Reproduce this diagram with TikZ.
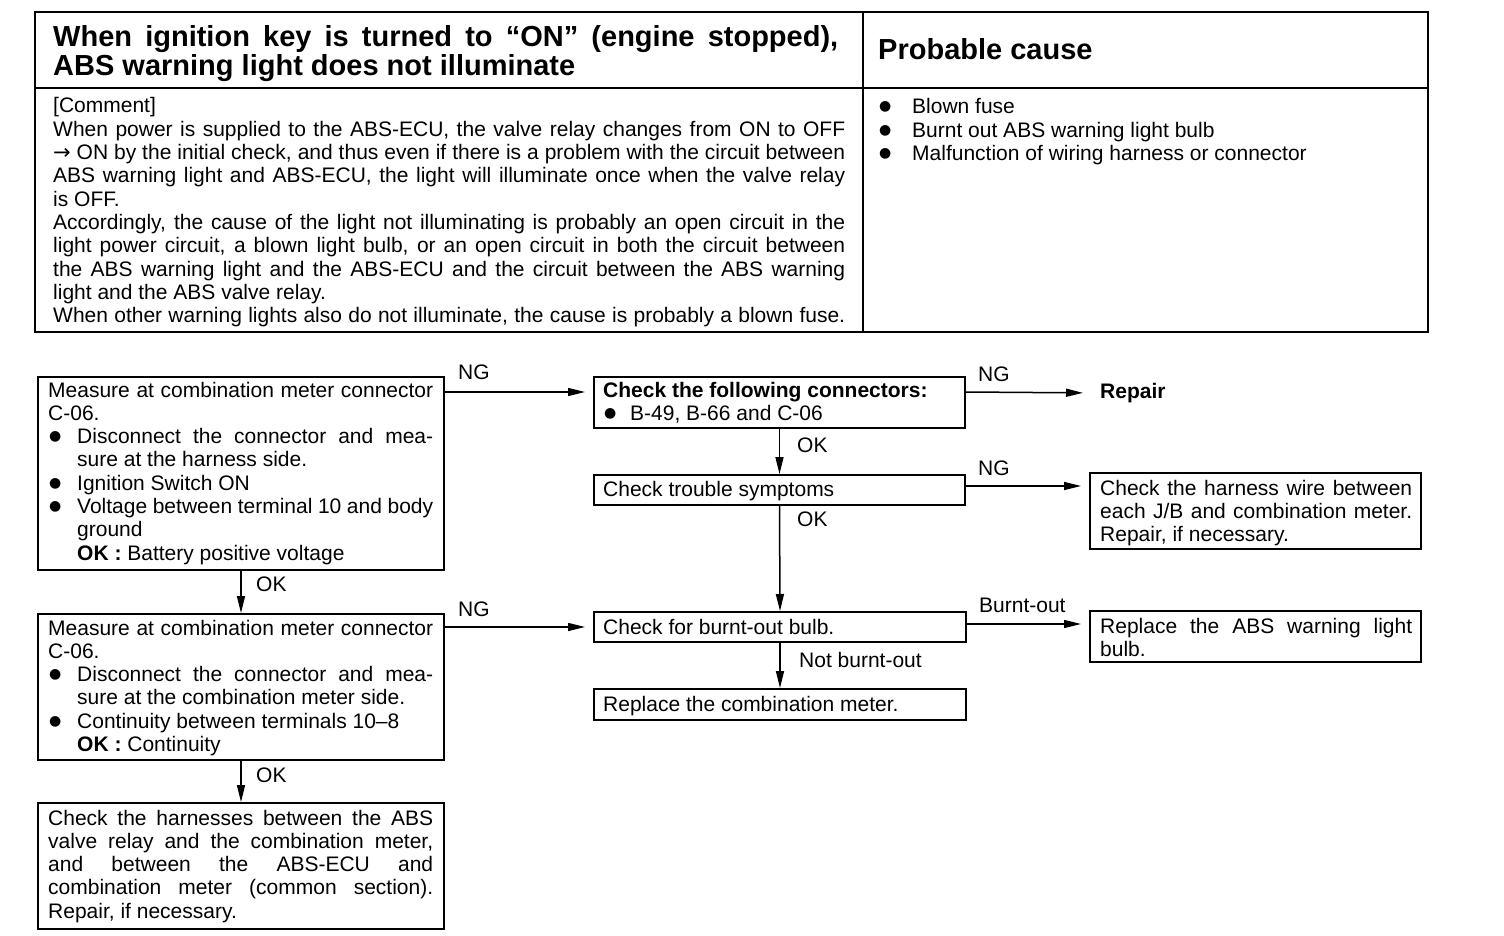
\documentclass[tikz,border=0pt]{standalone}
\usepackage{fontspec}
\setmainfont{Liberation Sans}
\newfontfamily\dv{DejaVu Sans}
\usetikzlibrary{arrows.meta}
\newcommand\jl[1]{\hbox to \hsize{\spaceskip=0.278em plus 1fil minus 0.12em\relax #1}}
\newcommand\rl[1]{\hbox{#1}}
\newcommand\blk[2]{\vtop{\hsize=#1\lineskiplimit=-100pt\relax #2}}
\newcommand\bulw[1]{\makebox[#1][l]{\hspace*{1pt}\raisebox{3pt}{\dv\fontsize{14}{14}\selectfont ●}}}
\newcommand\bul{\bulw{29pt}}
\tikzset{
  boxn/.style={draw, line width=2pt, inner sep=0pt, anchor=north west},
  txt/.style={inner sep=0pt, anchor=base west, font=\fontsize{21}{23.3}\selectfont},
  hdr/.style={inner sep=0pt, anchor=base west, font=\fontsize{29}{29}\bfseries\selectfont},
  lbl/.style={inner sep=0pt, anchor=west, font=\fontsize{21}{23.3}\selectfont},
  arr/.style={line width=1.5pt, -{Triangle[length=17pt,width=8pt]}},
  harr/.style={arr, shorten >=8pt},
}
\begin{document}
\begin{tikzpicture}[x=1pt,y=-1pt]
\useasboundingbox[fill=white] (0,0) rectangle (1504,936);
% ---------- top table ----------
\draw[line width=2pt] (35,12) rectangle (1428,332);
\draw[line width=2pt] (35,88) -- (1428,88);
\draw[line width=2pt] (863,12) -- (863,332);
\node[hdr] (title) at (53,47) {\blk{785pt}{\jl{When ignition key is turned to “ON” (engine stopped),}\rl{ABS warning light does not illuminate}}};
\node[hdr] (pctitle) at (878,60) {Probable cause};
\node[txt] (comment) at (53,113) {\blk{792pt}{%
\rl{[Comment]}%
\jl{When power is supplied to the ABS-ECU, the valve relay changes from ON to OFF}%
\jl{{\dv →} ON by the initial check, and thus even if there is a problem with the circuit between}%
\jl{ABS warning light and ABS-ECU, the light will illuminate once when the valve relay}%
\rl{is OFF.}%
\jl{Accordingly, the cause of the light not illuminating is probably an open circuit in the}%
\jl{light power circuit, a blown light bulb, or an open circuit in both the circuit between}%
\jl{the ABS warning light and the ABS-ECU and the circuit between the ABS warning}%
\rl{light and the ABS valve relay.}%
\jl{When other warning lights also do not illuminate, the cause is probably a blown fuse.}}};
\node[txt] (causes) at (878,114) {\blk{540pt}{%
\rl{\bulw{34pt}Blown fuse}%
\rl{\bulw{34pt}Burnt out ABS warning light bulb}%
\rl{\bulw{34pt}Malfunction of wiring harness or connector}}};
% ---------- flowchart boxes ----------
\node[boxn, minimum width=406pt, minimum height=193pt] (A) at (37,376) {};
\node[boxn, minimum width=371pt, minimum height=51pt] (B) at (593,376) {};
\node[boxn, minimum width=371pt, minimum height=30pt] (C) at (593,474) {};
\node[boxn, minimum width=331pt, minimum height=76pt] (D) at (1089,472) {};
\node[boxn, minimum width=372pt, minimum height=30pt] (E) at (593,611) {};
\node[boxn, minimum width=331pt, minimum height=51pt] (F) at (1089,610) {};
\node[boxn, minimum width=372pt, minimum height=31pt] (G) at (593,688) {};
\node[boxn, minimum width=406pt, minimum height=146pt] (H) at (37,613) {};
\node[boxn, minimum width=406pt, minimum height=126pt] (I) at (37,802) {};
% ---------- box texts ----------
\node[txt] (tA) at (48,397) {\blk{385pt}{%
\jl{Measure at combination meter connector}%
\rl{C-06.}%
\jl{\bul Disconnect the connector and mea-}%
\rl{\hspace*{29pt}sure at the harness side.}%
\rl{\bul Ignition Switch ON}%
\jl{\bul Voltage between terminal 10 and body}%
\rl{\hspace*{29pt}ground}%
\rl{\hspace*{29pt}\textbf{OK :} Battery positive voltage}}};
\node[txt] (tB) at (603,397) {\blk{352pt}{%
\rl{\textbf{Check the following connectors:}}%
\rl{\bulw{27pt}B-49, B-66 and C-06}}};
\node[txt] (tC) at (603,496) {Check trouble symptoms};
\node[txt] (tD) at (1100,495) {\blk{312pt}{%
\jl{Check the harness wire between}%
\jl{each J/B and combination meter.}%
\rl{Repair, if necessary.}}};
\node[txt] (tE) at (603,634) {Check for burnt-out bulb.};
\node[txt] (tF) at (1100,633) {\blk{312pt}{%
\jl{Replace the ABS warning light}%
\rl{bulb.}}};
\node[txt] (tG) at (603,711) {Replace the combination meter.};
\node[txt] (tH) at (48,635) {\blk{385pt}{%
\jl{Measure at combination meter connector}%
\rl{C-06.}%
\jl{\bul Disconnect the connector and mea-}%
\rl{\hspace*{29pt}sure at the combination meter side.}%
\rl{\bul Continuity between terminals 10–8}%
\rl{\hspace*{29pt}\textbf{OK :} Continuity}}};
\node[txt] (tI) at (48,825) {\blk{385pt}{%
\jl{Check the harnesses between the ABS}%
\jl{valve relay and the combination meter,}%
\jl{and between the ABS-ECU and}%
\jl{combination meter (common section).}%
\rl{Repair, if necessary.}}};
\node[lbl, font=\fontsize{21}{23.3}\bfseries\selectfont] (repair) at (1100,393) {Repair};
% ---------- connectors ----------
\coordinate (y1) at (0,392);
\coordinate (y2) at (0,486);
\coordinate (y3) at (0,624);
\coordinate (y4) at (0,627);
\draw[harr] (A.east |- y1) -- (B.west |- y1);
\draw[arr, shorten >=17pt] (B.east |- y1) -- (repair.west);
\draw[arr] (B.south) -- (C.north);
\draw[harr] (C.east |- y2) -- (D.west |- y2);
\draw[arr] (C.south) -- (E.north);
\draw[harr] (E.east |- y3) -- (F.west |- y3);
\draw[arr] (E.south) -- (G.north);
\draw[arr] (A.south) -- (H.north);
\draw[harr] (H.east |- y4) -- (E.west |- y4);
\draw[arr] (H.south) -- (I.north);
% ---------- labels ----------
\node[lbl] (ng1) at (458,372) {NG};
\node[lbl] (ng2) at (978,374) {NG};
\node[lbl] (ok1) at (797,445) {OK};
\node[lbl] (ng3) at (978,468) {NG};
\node[lbl] (ok2) at (797,519) {OK};
\node[lbl] (bo) at (979,605) {Burnt-out};
\node[lbl] (nbo) at (799,660) {Not burnt-out};
\node[lbl] (ok3) at (256,584) {OK};
\node[lbl] (ng4) at (458,609) {NG};
\node[lbl] (ok4) at (256,775) {OK};
\end{tikzpicture}
\end{document}
